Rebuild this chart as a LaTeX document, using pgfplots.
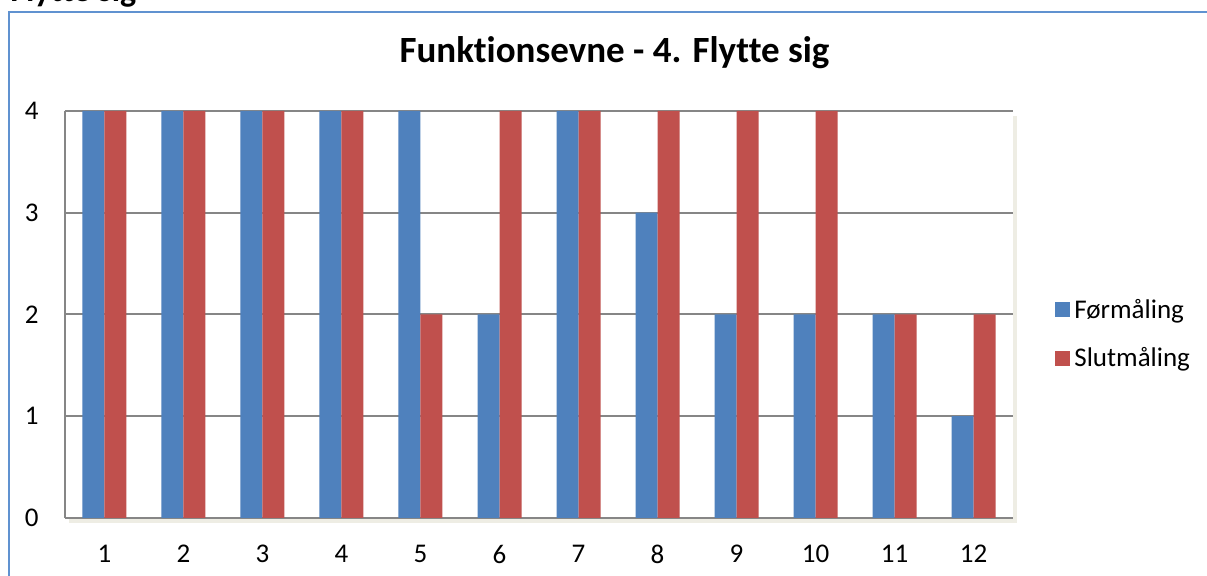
\documentclass[border=0pt]{standalone}
\usepackage{fontspec}
\setmainfont{Carlito}[Ligatures=NoCommon]
\usepackage{pgfplots}
\pgfplotsset{compat=1.18}
\usetikzlibrary{shadows}
\definecolor{cblue}{RGB}{79,129,189}
\definecolor{cred}{RGB}{192,80,77}
\definecolor{cgrid}{RGB}{134,134,134}
\definecolor{cframe}{RGB}{96,146,208}
\definecolor{cshadow}{RGB}{238,237,228}
\begin{document}
\begin{tikzpicture}
\useasboundingbox (0pt,0pt) rectangle (603.5pt,-288pt);
\clip (0pt,0pt) rectangle (603.5pt,-288pt);
\fill[white] (0pt,0pt) rectangle (603.5pt,-288pt);
\draw[cframe,line width=1pt] (4.5pt,-300pt) -- (4.5pt,-6pt) -- (620pt,-6pt);
\node[anchor=base west,inner sep=0pt,font=\fontsize{17}{20}\selectfont\bfseries] at (5pt,-0.8pt) {Flytte sig};
\node[anchor=base,inner sep=0pt,font=\fontsize{18.5}{21}\selectfont\bfseries] at (307.25pt,-31.5pt) {Funktionsevne - 4. Flytte sig};
\begin{axis}[
  at={(32.5pt,-259pt)}, anchor=south west,
  scale only axis, width=474pt, height=203.5pt,
  axis background/.style={fill=white, drop shadow={shadow xshift=2pt, shadow yshift=-2.5pt, fill=cshadow, opacity=1}},
  ybar=0pt, bar width=11pt,
  xmin=0.5, xmax=12.5, ymin=0, ymax=4,
  xtick={1,2,3,4,5,6,7,8,9,10,11,12},
  ytick={0,1,2,3,4},
  major tick length=0pt,
  axis x line*=bottom, axis y line*=left,
  axis line style={cgrid,line width=1pt,-},
  ymajorgrids, grid style={cgrid,line width=1pt},
  tick label style={font=\fontsize{13.5}{15}\selectfont, inner sep=0pt},
  yticklabel style={anchor=east, xshift=-13pt},
  xticklabel style={anchor=north, yshift=-13.5pt},
  /pgf/number format/assume math mode=true,
  legend style={at={(1.0443,0.452)}, anchor=west, draw=none, fill=none, inner sep=0pt,
    font=\fontsize{13.5}{15}\selectfont, row sep=9pt,
    /tikz/every even column/.append style={column sep=3.5pt}},
  legend cell align=left,
  every axis plot post/.append style={legend image code/.code={\fill[##1,draw=none] (0pt,-3.75pt) rectangle (7.5pt,3.75pt);}},
]
\addplot[fill=cblue, draw=none] coordinates {(1,4) (2,4) (3,4) (4,4) (5,4) (6,2) (7,4) (8,3) (9,2) (10,2) (11,2) (12,1)};
\addplot[fill=cred, draw=none] coordinates {(1,4) (2,4) (3,4) (4,4) (5,2) (6,4) (7,4) (8,4) (9,4) (10,4) (11,2) (12,2)};
\legend{Førmåling, Slutmåling}
\end{axis}
\end{tikzpicture}
\end{document}
